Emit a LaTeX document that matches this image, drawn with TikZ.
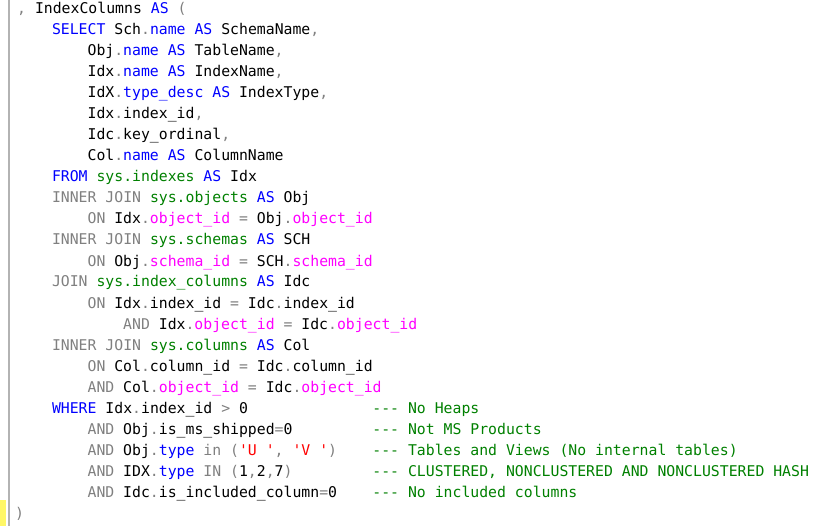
\documentclass[tikz,border=0pt]{standalone}
\usepackage{fontspec}
\setmonofont{DejaVu Sans Mono}
\usepackage{xcolor}
\usepackage{tikz}

\definecolor{kwblue}{RGB}{0,0,255}
\definecolor{opgray}{RGB}{128,128,128}
\definecolor{sysgreen}{RGB}{0,128,0}
\definecolor{fnpink}{RGB}{255,0,255}
\definecolor{strred}{RGB}{255,0,0}

\newcommand\kw[1]{\textcolor{kwblue}{#1}}
\newcommand\gy[1]{\textcolor{opgray}{#1}}
\newcommand\sy[1]{\textcolor{sysgreen}{#1}}
\newcommand\mg[1]{\textcolor{fnpink}{#1}}
\newcommand\st[1]{\textcolor{strred}{#1}}

\begin{document}
\begin{tikzpicture}[
    x=1pt, y=-1pt,
    code/.style={anchor=base west, inner sep=0pt, font=\ttfamily\fontsize{14.8}{21}\selectfont},
    comment/.style={code, text=sysgreen}
]
\useasboundingbox (0,0) rectangle (818,526);
\def\cw{8.9}

% gutter
\draw[opgray!60, line width=1.2pt] (9,0) -- (9,526);
\fill[yellow!60] (0,500) rectangle (6,526);

\node[code] (l1) at (17,14) {\gy{,} IndexColumns \kw{AS} \gy{(}};
\node[code] (l2) at ({34+2*\cw},35) {\kw{SELECT} Sch\gy{.}\kw{name} \kw{AS} SchemaName\gy{,}};
\node[code] (l3) at ({34+6*\cw},56) {Obj\gy{.}\kw{name} \kw{AS} TableName\gy{,}};
\node[code] (l4) at ({34+6*\cw},77) {Idx\gy{.}\kw{name} \kw{AS} IndexName\gy{,}};
\node[code] (l5) at ({34+6*\cw},98) {IdX\gy{.}\kw{type\_desc} \kw{AS} IndexType\gy{,}};
\node[code] (l6) at ({34+6*\cw},119) {Idx\gy{.}index\_id\gy{,}};
\node[code] (l7) at ({34+6*\cw},140) {Idc\gy{.}key\_ordinal\gy{,}};
\node[code] (l8) at ({34+6*\cw},161) {Col\gy{.}\kw{name} \kw{AS} ColumnName};
\node[code] (l9) at ({34+2*\cw},182) {\kw{FROM} \sy{sys.indexes} \kw{AS} Idx};
\node[code] (l10) at ({34+2*\cw},203) {\gy{INNER JOIN} \sy{sys.objects} \kw{AS} Obj};
\node[code] (l11) at ({34+6*\cw},224) {\gy{ON} Idx\gy{.}\mg{object\_id} \gy{=} Obj\gy{.}\mg{object\_id}};
\node[code] (l12) at ({34+2*\cw},245) {\gy{INNER JOIN} \sy{sys.schemas} \kw{AS} SCH};
\node[code] (l13) at ({34+6*\cw},266) {\gy{ON} Obj\gy{.}\mg{schema\_id} \gy{=} SCH\gy{.}\mg{schema\_id}};
\node[code] (l14) at ({34+2*\cw},287) {\gy{JOIN} \sy{sys.index\_columns} \kw{AS} Idc};
\node[code] (l15) at ({34+6*\cw},308) {\gy{ON} Idx\gy{.}index\_id \gy{=} Idc\gy{.}index\_id};
\node[code] (l16) at ({34+10*\cw},329) {\gy{AND} Idx\gy{.}\mg{object\_id} \gy{=} Idc\gy{.}\mg{object\_id}};
\node[code] (l17) at ({34+2*\cw},350) {\gy{INNER JOIN} \sy{sys.columns} \kw{AS} Col};
\node[code] (l18) at ({34+6*\cw},371) {\gy{ON} Col\gy{.}column\_id \gy{=} Idc\gy{.}column\_id};
\node[code] (l19) at ({34+6*\cw},392) {\gy{AND} Col\gy{.}\mg{object\_id} \gy{=} Idc\gy{.}\mg{object\_id}};
\node[code] (l20) at ({34+2*\cw},413) {\kw{WHERE} Idx\gy{.}index\_id \gy{>} 0};
\node[code] (l21) at ({34+6*\cw},434) {\gy{AND} Obj\gy{.}is\_ms\_shipped\gy{=}0};
\node[code] (l22) at ({34+6*\cw},455) {\gy{AND} Obj\gy{.}\kw{type} \gy{in} \gy{(}\st{'U~'}\gy{,} \st{'V~'}\gy{)}};
\node[code] (l23) at ({34+6*\cw},476) {\gy{AND} IDX\gy{.}\kw{type} \gy{IN} \gy{(}1\gy{,}2\gy{,}7\gy{)}};
\node[code] (l24) at ({34+6*\cw},497) {\gy{AND} Idc\gy{.}is\_included\_column\gy{=}0};
\node[code] (l25) at (15,518) {\gy{)}};

% comments
\node[comment] (c20) at ({34+38*\cw},413) {--- No Heaps};
\node[comment] (c21) at ({34+38*\cw},434) {--- Not MS Products};
\node[comment] (c22) at ({34+38*\cw},455) {--- Tables and Views (No internal tables)};
\node[comment] (c23) at ({34+38*\cw},476) {--- CLUSTERED, NONCLUSTERED AND NONCLUSTERED HASH};
\node[comment] (c24) at ({34+38*\cw},497) {--- No included columns};
\end{tikzpicture}
\end{document}
